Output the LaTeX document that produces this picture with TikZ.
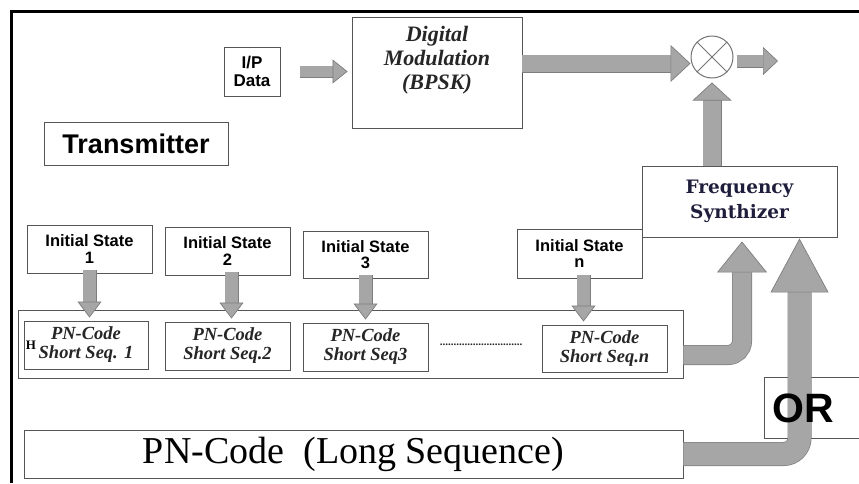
\documentclass[tikz,border=0pt]{standalone}
\usepackage{fontspec}
\setmainfont{Liberation Serif}
\setsansfont{Liberation Sans}
\newfontfamily\synfont{DejaVu Serif}
\usetikzlibrary{arrows.meta}
\pgfdeclarelayer{back}
\pgfsetlayers{back,main}
\definecolor{arrowfill}{RGB}{166,166,166}
\definecolor{arrowline}{RGB}{125,125,125}
\definecolor{boxline}{RGB}{85,85,85}
\definecolor{syntext}{RGB}{30,30,60}
\begin{document}
\begin{tikzpicture}[x=1pt, y=-1pt,
  box/.style={draw=boxline, line width=0.9pt, fill=white, inner sep=0pt, align=center},
  fat/.style n args={3}{draw=arrowline, line width=0.7pt, double=arrowfill, double distance=#1,
    -{Triangle[width=#2, length=#3, line width=0.7pt, fill=arrowfill, color=arrowline]}},
  state/.style={box, minimum width=125pt, minimum height=48pt, font=\sffamily\bfseries\fontsize{16.5}{16.5}\selectfont},
  seq/.style={box, minimum width=125pt, minimum height=48pt, text=black!85, font=\bfseries\itshape\fontsize{18.5}{19}\selectfont}]
\useasboundingbox (0,0) rectangle (859,483);
\draw[line width=3pt] (11,483) -- (11,11) -- (859,11);
\node[box, minimum width=56pt, minimum height=49pt, font=\sffamily\bfseries\fontsize{17}{18}\selectfont] (ip) at (252,71.5) {I/P\\Data};
\node[box, minimum width=170pt, minimum height=111pt,
  label={[anchor=north, yshift=-9.5pt, inner sep=0pt, align=center, text=black!85, font=\bfseries\itshape\fontsize{22}{24}\selectfont]north:Digital\\Modulation\\(BPSK)}] (mod) at (437,72.5) {};
\node[box, minimum width=184pt, minimum height=43pt, font=\sffamily\bfseries\fontsize{27}{27}\selectfont] (tx) at (136,143.5) {Transmitter};
\node[circle, draw=black!55, line width=1pt, minimum size=42pt, inner sep=0pt] (mix) at (712,57) {};
\draw[black!55, line width=0.8pt] (mix.north east) -- (mix.south west) (mix.north west) -- (mix.south east);
\coordinate (out) at (778,61);
\node[box, minimum width=195pt, minimum height=71pt, text=syntext, font=\synfont\bfseries\fontsize{18.5}{25}\selectfont] (syn) at (739.5,201.5) {Frequency\\Synthizer};
\node[state] (IS_1) at (89.5,249) {Initial State\\1};
\node[state] (IS_2) at (227.5,251) {Initial State\\2};
\node[state, minimum height=47pt] (IS_3) at (365.5,254.5) {Initial State\\3};
\node[state, minimum height=49pt] (IS_n) at (579.5,253.5) {Initial State\\n};
\node[box, minimum width=665pt, minimum height=68pt] (cont) at (350.5,344) {};
\node[seq, minimum width=124pt] (PN_1) at (86,345) {PN-Code\\Short Seq. 1};
\node[seq] (PN_2) at (227.5,346) {PN-Code\\Short Seq.2};
\node[seq] (PN_3) at (365.5,347) {PN-Code\\Short Seq3};
\node[seq, minimum height=47pt] (PN_n) at (604.5,348.5) {PN-Code\\Short Seq.n};
\node[font=\bfseries\fontsize{13}{13}\selectfont, inner sep=0pt] (H) at (31,345) {H};
\node[text=black!85, font=\bfseries\fontsize{11}{11}\selectfont, inner sep=0pt] (dots) at (481,345) {..............................};
\node[box, minimum width=659pt, minimum height=48pt, font=\fontsize{38}{38}\selectfont] (long) at (353.5,454) {\raisebox{3pt}{PN-Code\ \ (Long Sequence)}};
\draw[fat={10.6pt}{24pt}{15pt}, shorten <=20pt, shorten >=4pt] (ip.east) -- (ip.east -| mod.west);
\draw[fat={16.6pt}{37pt}{20pt}] ([yshift=9pt]mod.east) -- ([yshift=9pt]mod.east -| mix.west);
\draw[fat={11.6pt}{28pt}{15pt}, shorten <=3pt] (mix.east |- out) -- (out);
\draw[fat={17.6pt}{39pt}{18pt}, shorten >=4pt] (mix.south |- syn.north) -- (mix.south);
\draw[fat={12.6pt}{24pt}{16pt}, shorten <=-3pt, shorten >=3pt] (IS_1.south) -- (IS_1.south |- PN_1.north);
\draw[fat={12.6pt}{24pt}{16pt}, shorten <=-3pt, shorten >=3pt] ([xshift=4pt]IS_2.south) -- ([xshift=4pt]IS_2.south |- PN_2.north);
\draw[fat={12.6pt}{24pt}{16pt}, shorten <=-3pt, shorten >=3pt] (IS_3.south) -- (IS_3.south |- PN_3.north);
\draw[fat={12.6pt}{24pt}{16pt}, shorten <=-3pt, shorten >=3pt] ([xshift=4pt]IS_n.south) -- ([xshift=4pt]IS_n.south |- PN_n.north);
\draw[fat={18.6pt}{50pt}{31pt}, rounded corners=14pt] ([yshift=-11pt]cont.east) -| ([xshift=2.5pt, yshift=-4pt]syn.south);
\draw[fat={22.6pt}{58pt}{54pt}, rounded corners=16pt] (long.east) -| ([xshift=60pt, yshift=-1pt]syn.south);
\node[anchor=west, text width=94pt, inner xsep=8pt, inner ysep=0pt, minimum height=60pt, align=left,
  font=\sffamily\bfseries\fontsize{41}{41}\selectfont] (orb) at (764,408) {OR};
\begin{pgfonlayer}{back}
\draw[draw=boxline, line width=0.9pt] (orb.north west) rectangle (orb.south east);
\end{pgfonlayer}
\end{tikzpicture}
\end{document}
